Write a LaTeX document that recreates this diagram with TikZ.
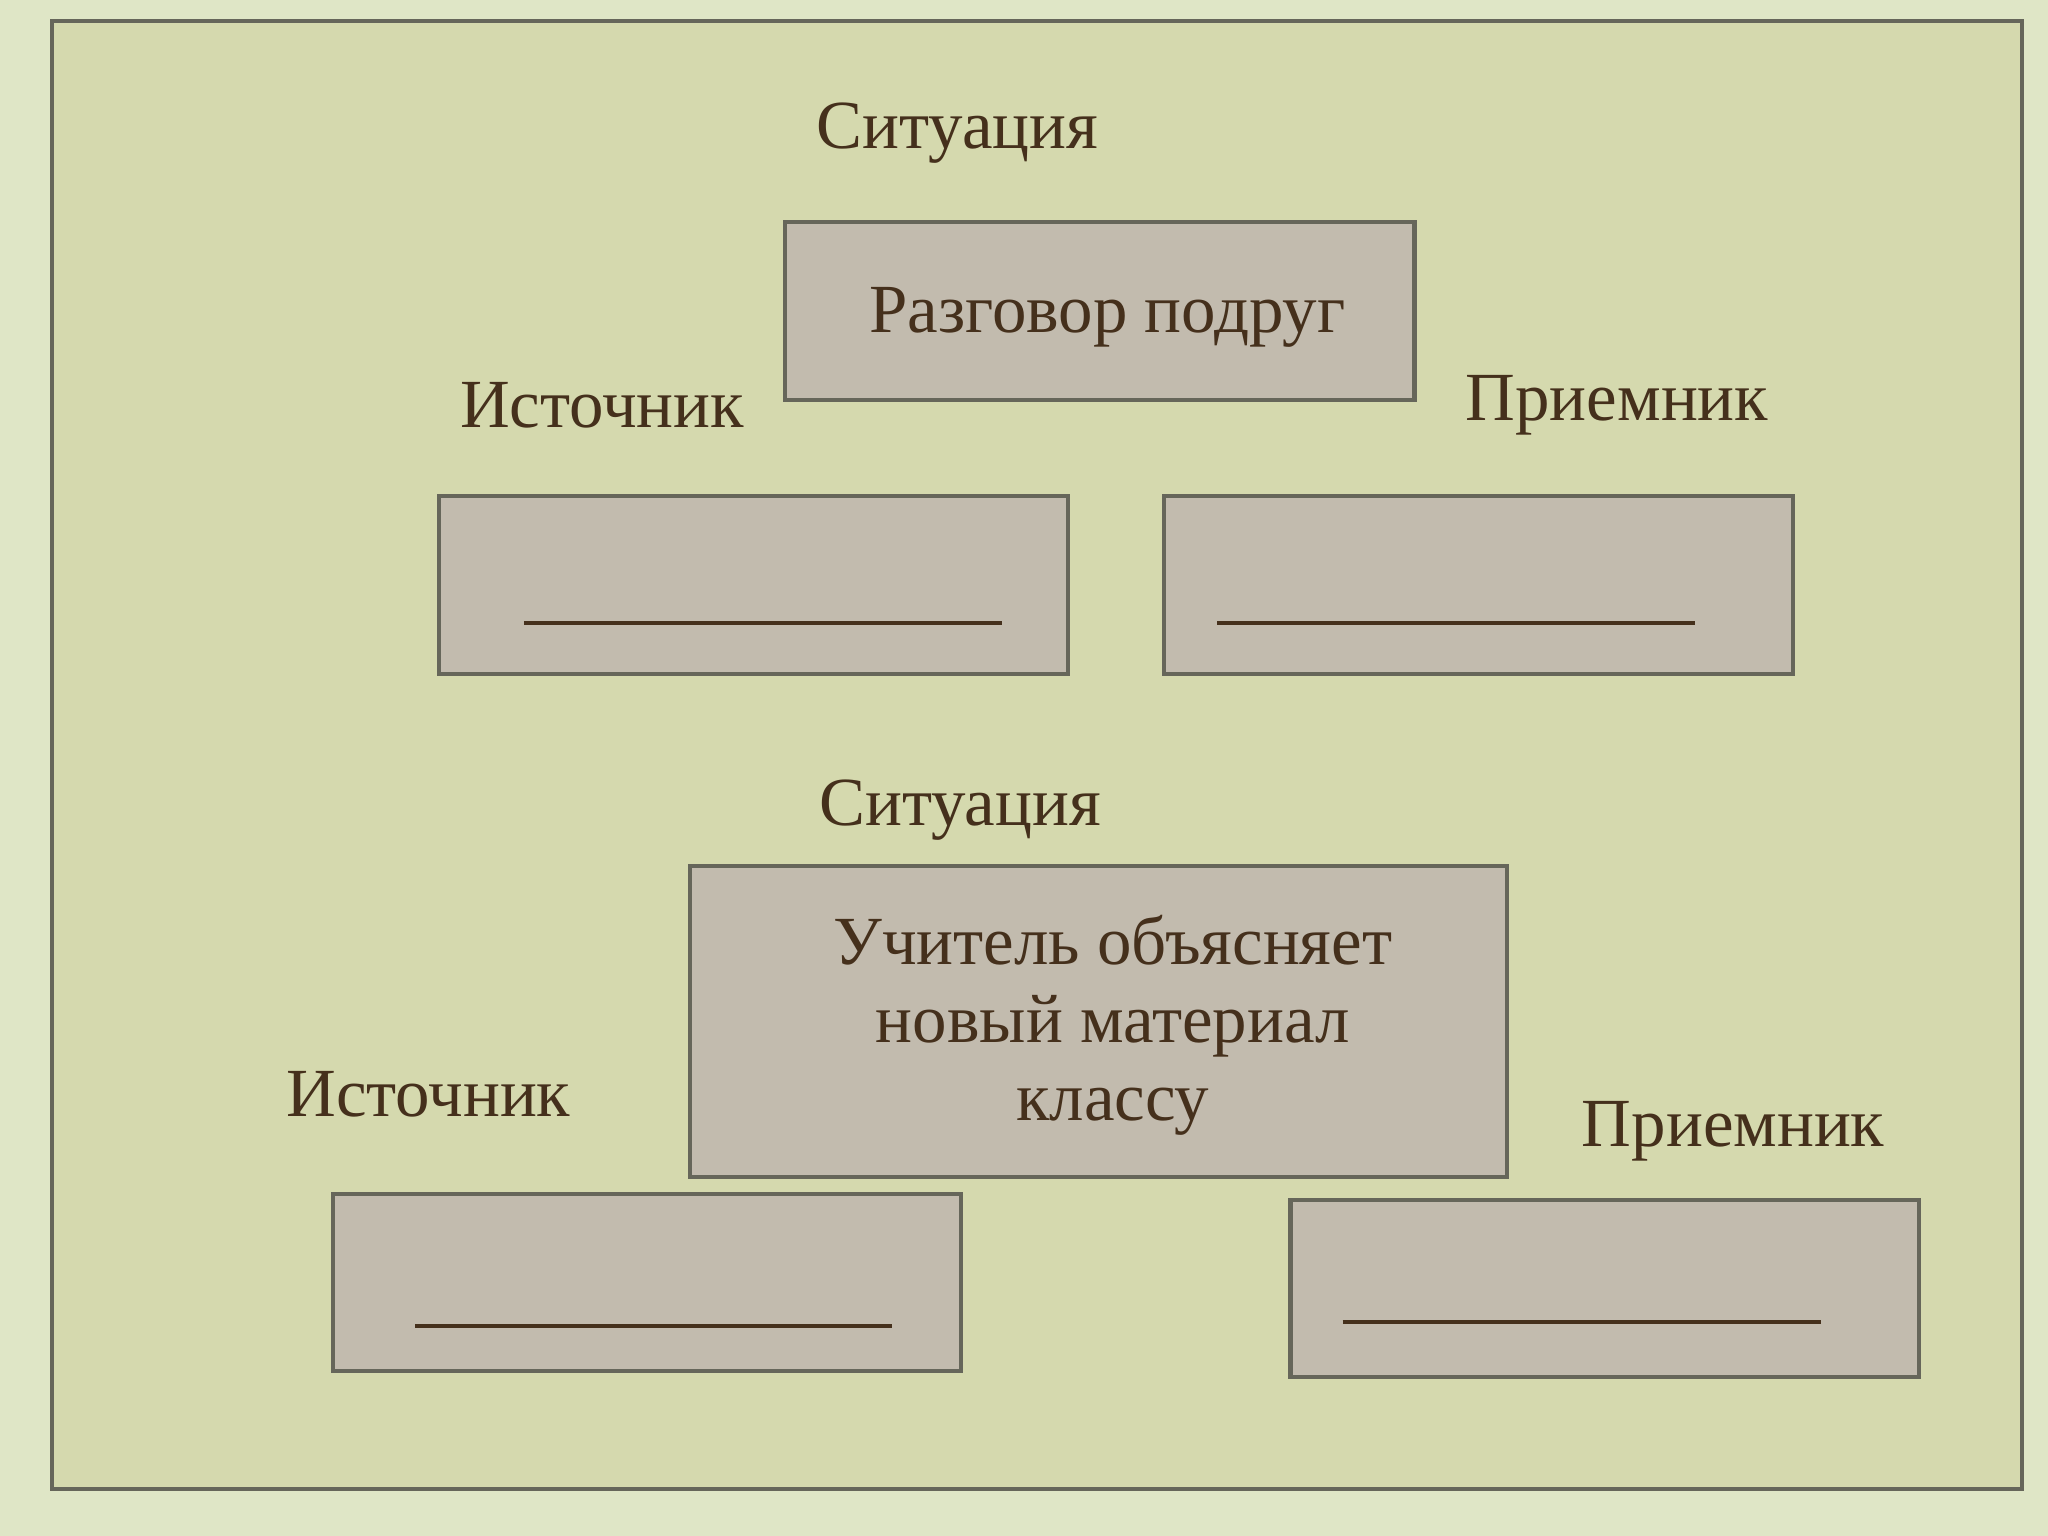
\documentclass[tikz,border=0pt]{standalone}
\usepackage{fontspec}
\setmainfont{Liberation Serif}
\definecolor{outerbg}{HTML}{DFE6C6}
\definecolor{innerbg}{HTML}{D5D9AE}
\definecolor{boxfill}{HTML}{C2BBAE}
\definecolor{boxline}{HTML}{66665A}
\definecolor{txt}{HTML}{45301C}
\begin{document}
\begin{tikzpicture}[x=0.01cm,y=-0.01cm,
  box/.style={draw=boxline,fill=boxfill,line width=0.9pt},
  lbl/.style={text=txt,font=\fontsize{15}{18}\selectfont},
  blank/.style={draw=txt,line width=0.9pt}]
\fill[outerbg] (0,0) rectangle (1568,1176);
\useasboundingbox (0,0) rectangle (1568,1176);
\draw[boxline,fill=innerbg,line width=0.8pt] (40,16) rectangle (1548,1140);
% boxes
\draw[box] (601,170) rectangle (1083,306);
\node[lbl] (s1) at (848,243) {Разговор подруг};
\draw[box] (336,380) rectangle (818,516);
\draw[blank] (401,477) -- (767,477);
\draw[box] (891,380) rectangle (1373,516);
\draw[blank] (932,477) -- (1298,477);
\draw[box] (528,663) rectangle (1154,901);
\node[lbl,align=center] (s2) at (852,785) {Учитель объясняет\\[-1pt]новый материал\\[-1pt]классу};
\draw[box] (255,914) rectangle (736,1050);
\draw[blank] (318,1015) -- (683,1015);
\draw[box] (988,919) rectangle (1469,1054);
\draw[blank] (1028,1012) -- (1394,1012);
% labels
\node[lbl] (l1) at (733,102) {Ситуация};
\node[lbl] (l2) at (461,310) {Источник};
\node[lbl] (l3) at (1238,310) {Приемник};
\node[lbl] (l4) at (735,620) {Ситуация};
\node[lbl] (l5) at (328,838) {Источник};
\node[lbl] (l6) at (1327,866) {Приемник};
\end{tikzpicture}
\end{document}
